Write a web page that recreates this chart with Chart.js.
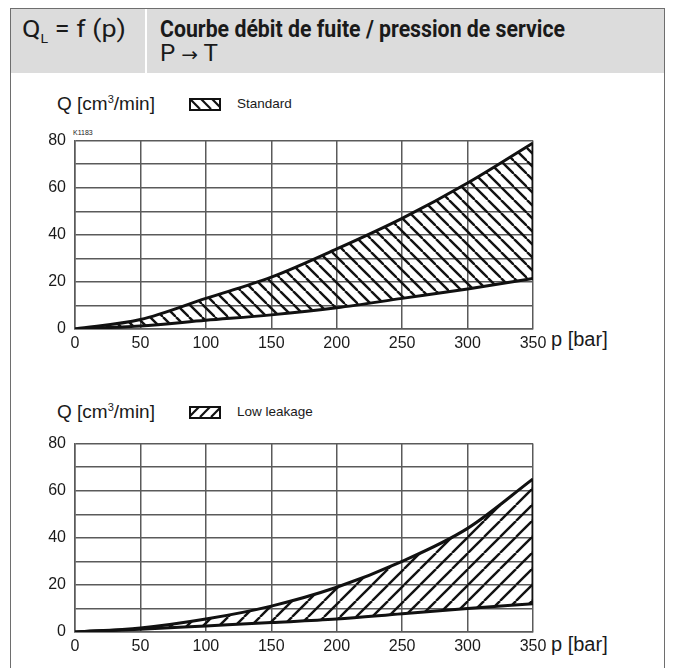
<!DOCTYPE html>
<html>
<head>
<meta charset="utf-8">
<script src="https://cdn.jsdelivr.net/npm/chart.js@4"></script>
<style>
  html, body { margin: 0; padding: 0; background: #fff; }
  body { width: 675px; height: 668px; position: relative; overflow: hidden; font-family: "Liberation Sans", Arial, sans-serif; color: #1a1a1a; }
  .frame { position: absolute; left: 10px; top: 8px; width: 655px; height: 670px; border: 1.5px solid #6e6e6e; border-bottom: none; box-sizing: border-box; }
  .head { position: absolute; left: 11px; top: 9px; width: 654px; height: 64px; background: #dcdcdc; }
  .divider { position: absolute; left: 145px; top: 9px; width: 2px; height: 64px; background: #fff; }
  .cond { font-family: "Roboto", sans-serif; transform-origin: 0 50%; }
  .t { position: absolute; white-space: nowrap; }
  canvas.chart { position: absolute; }
</style>
</head>
<body>
<div class="head"></div>
<div class="divider"></div>
<div class="frame"></div>

<div class="t cond" data-w="104" style="left:22px; top:16px; font-size:23px;">Q<sub style="font-size:12px; vertical-align:-6px;">L</sub> = f (p)</div>
<div class="t cond" data-w="405" style="left:160px; top:16px; font-size:23px; font-weight:bold;">Courbe débit de fuite / pression de service</div>
<div class="t cond" data-w="58" style="left:160px; top:40px; font-size:23px;">P <span style="font-family:'DejaVu Sans'; font-size:19px;">→</span> T</div>

<div class="t" style="left:57px; top:93px; font-size:19px;">Q [cm<sup style="font-size:11px;">3</sup>/min]</div>
<canvas id="leg1" class="t" width="32" height="13" style="left:189px; top:98px;"></canvas>
<div class="t" style="left:237px; top:96px; font-size:13.5px;">Standard</div>
<div class="t" style="left:73px; top:129px; font-size:7px;">K1183</div>
<div class="t" style="left:551px; top:328px; font-size:20px;">p [bar]</div>

<div class="t" style="left:57px; top:401px; font-size:19px;">Q [cm<sup style="font-size:11px;">3</sup>/min]</div>
<canvas id="leg2" class="t" width="32" height="13" style="left:189px; top:406px;"></canvas>
<div class="t" style="left:237px; top:404px; font-size:13.5px;">Low leakage</div>
<div class="t" style="left:551px; top:633px; font-size:20px;">p [bar]</div>

<canvas id="c1" class="chart" width="600" height="240" style="left:20px; top:122px; width:600px; height:240px;"></canvas>
<canvas id="c2" class="chart" width="600" height="240" style="left:20px; top:425px; width:600px; height:240px;"></canvas>

<script>
// pressure p [bar]
const pressure = [0, 50, 100, 150, 200, 250, 300, 350];
// leakage Q [cm3/min], band limits
const standardUpper = [0, 4, 13, 22, 34, 47, 62, 79];
const standardLower = [0, 1.3, 3.7, 6, 9, 13, 17, 21.5];
const lowUpper = [0, 1.7, 5.5, 11, 19, 30, 44, 65];
const lowLower = [0, 1.2, 2.6, 4, 5.5, 7.8, 10, 12];
const xTicks = [0, 50, 100, 150, 200, 250, 300, 350];
const yTicks = [0, 20, 40, 60, 80];

// squeeze header text to the condensed widths of the original
document.querySelectorAll('[data-w]').forEach(el => {
  const k = Number(el.dataset.w) / el.getBoundingClientRect().width;
  el.style.transform = 'scaleX(' + k + ')';
});

function hatch(size, dir, width) {
  const c = document.createElement('canvas');
  c.width = size; c.height = size;
  const g = c.getContext('2d');
  g.strokeStyle = '#111';
  g.lineWidth = width;
  for (const off of [-size, 0, size]) {
    g.beginPath();
    if (dir === 'back') { g.moveTo(off, 0); g.lineTo(off + size, size); }
    else { g.moveTo(off, size); g.lineTo(off + size, 0); }
    g.stroke();
  }
  return c;
}

function legendBox(id, dir) {
  const cv = document.getElementById(id);
  const g = cv.getContext('2d');
  g.fillStyle = g.createPattern(hatch(11, dir, 2.2), 'repeat');
  g.fillRect(0, 0, cv.width, cv.height);
  g.strokeStyle = '#111';
  g.lineWidth = 2;
  g.strokeRect(1, 1, cv.width - 2, cv.height - 2);
}
legendBox('leg1', 'back');
legendBox('leg2', 'fwd');

function pts(ys) {
  return pressure.map((p, i) => ({ x: p, y: ys[i] }));
}

function makeChart(id, lower, upper, dir, spacing) {
  const ctx = document.getElementById(id).getContext('2d');
  const pattern = ctx.createPattern(hatch(spacing, dir, 2.4), 'repeat');
  const last = pressure.length - 1;
  new Chart(ctx, {
    type: 'line',
    data: {
      datasets: [
        {
          data: pts(lower),
          borderColor: '#111',
          borderWidth: 3,
          pointRadius: 0,
          cubicInterpolationMode: 'monotone',
          fill: false
        },
        {
          data: pts(upper),
          borderColor: '#111',
          borderWidth: 3,
          pointRadius: 0,
          cubicInterpolationMode: 'monotone',
          backgroundColor: pattern,
          fill: '-1'
        },
        {
          data: [{ x: pressure[last], y: lower[last] }, { x: pressure[last], y: upper[last] }],
          borderColor: '#111',
          borderWidth: 3,
          pointRadius: 0,
          fill: false
        }
      ]
    },
    options: {
      responsive: false,
      animation: false,
      layout: { padding: { top: 10, right: 87, left: 0, bottom: 0 } },
      plugins: { legend: { display: false }, tooltip: { enabled: false } },
      scales: {
        x: {
          type: 'linear',
          min: 0, max: 350,
          afterBuildTicks: s => { s.ticks = xTicks.map(v => ({ value: v })); },
          afterFit: s => { s.height = 33; },
          grid: { color: '#5a5a5a', lineWidth: 1.5, drawTicks: false },
          border: { color: '#5a5a5a', width: 1.5 },
          ticks: { color: '#1a1a1a', padding: 5, maxRotation: 0, font: { family: 'Liberation Sans', size: 16 } }
        },
        y: {
          min: 0, max: 80,
          ticks: {
            stepSize: 10,
            padding: 9,
            color: '#1a1a1a',
            font: { family: 'Liberation Sans', size: 16 },
            callback: v => yTicks.includes(v) ? String(v) : ''
          },
          afterFit: s => { s.width = 55; },
          grid: { color: '#5a5a5a', lineWidth: 1.5, drawTicks: false },
          border: { color: '#5a5a5a', width: 1.5 }
        }
      }
    }
  });
}

makeChart('c1', standardLower, standardUpper, 'back', 13);
makeChart('c2', lowLower, lowUpper, 'fwd', 16);
</script>
</body>
</html>
